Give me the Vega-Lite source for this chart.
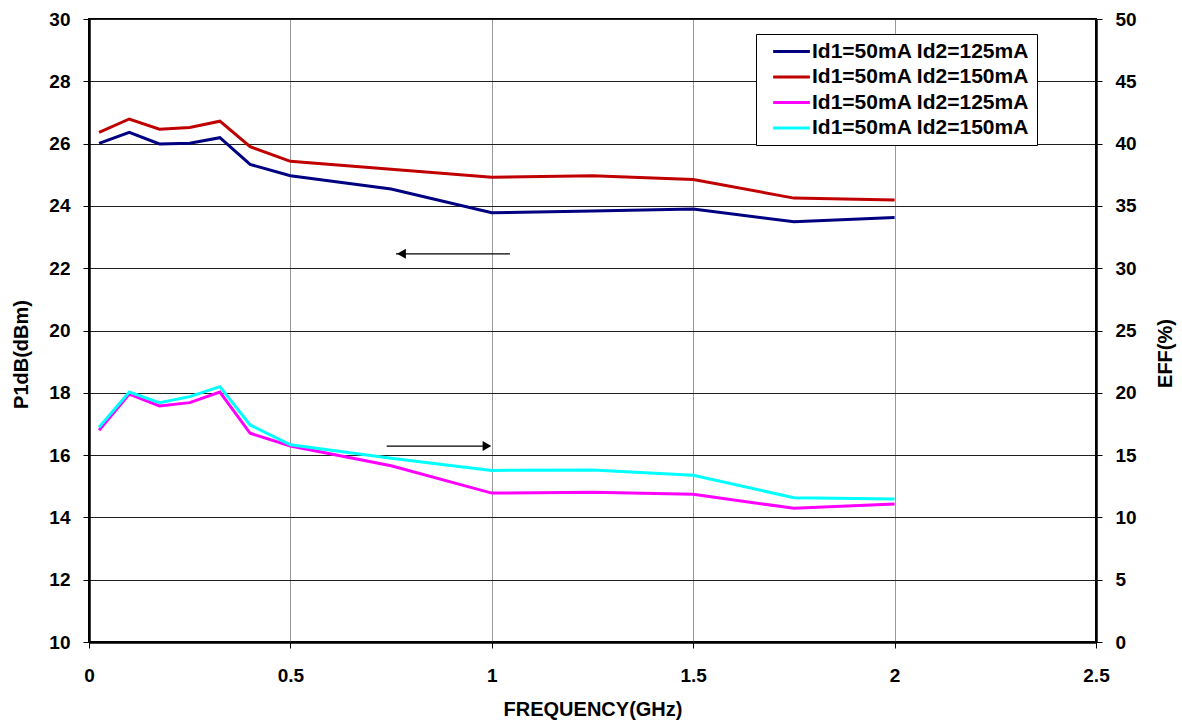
{
  "$schema": "https://vega.github.io/schema/vega-lite/v6.json",
  "width": 1007,
  "height": 623,
  "autosize": {"type": "none"},
  "padding": {"left": 89, "top": 19, "right": 86, "bottom": 81},
  "background": "white",
  "config": {
    "font": "Liberation Sans",
    "view": {"stroke": "black", "strokeWidth": 2},
    "axis": {
      "labelFont": "Liberation Sans", "labelFontSize": 19, "labelFontWeight": "bold", "labelColor": "black",
      "titleFont": "Liberation Sans", "titleFontSize": 20, "titleFontWeight": "bold", "titleColor": "black",
      "domainColor": "black", "domainWidth": 2.5, "tickColor": "black", "tickSize": 6, "tickWidth": 1
    },
    "legend": {
      "orient": "none", "legendX": 667, "legendY": 15,
      "strokeColor": "black", "strokeWidth": 1, "fillColor": "white", "padding": 7,
      "labelFont": "Liberation Sans", "labelFontSize": 21, "labelFontWeight": "bold", "labelColor": "black", "labelLimit": 400,
      "symbolType": "M-0.05,0H5.2", "symbolStrokeWidth": 3, "symbolSize": 196, "labelOffset": 28, "rowPadding": 3.5
    }
  },
  "datasets": {
    "p1db": [
      {"freq": 0.025, "series": "P1dB Id2=125mA", "value": 26.01},
      {"freq": 0.1, "series": "P1dB Id2=125mA", "value": 26.36},
      {"freq": 0.175, "series": "P1dB Id2=125mA", "value": 25.99},
      {"freq": 0.25, "series": "P1dB Id2=125mA", "value": 26.01},
      {"freq": 0.325, "series": "P1dB Id2=125mA", "value": 26.19},
      {"freq": 0.4, "series": "P1dB Id2=125mA", "value": 25.33},
      {"freq": 0.5, "series": "P1dB Id2=125mA", "value": 24.97},
      {"freq": 0.75, "series": "P1dB Id2=125mA", "value": 24.54},
      {"freq": 1.0, "series": "P1dB Id2=125mA", "value": 23.78},
      {"freq": 1.25, "series": "P1dB Id2=125mA", "value": 23.84},
      {"freq": 1.5, "series": "P1dB Id2=125mA", "value": 23.9},
      {"freq": 1.75, "series": "P1dB Id2=125mA", "value": 23.49},
      {"freq": 2.0, "series": "P1dB Id2=125mA", "value": 23.63},
      {"freq": 0.025, "series": "P1dB Id2=150mA", "value": 26.36},
      {"freq": 0.1, "series": "P1dB Id2=150mA", "value": 26.79},
      {"freq": 0.175, "series": "P1dB Id2=150mA", "value": 26.46},
      {"freq": 0.25, "series": "P1dB Id2=150mA", "value": 26.52},
      {"freq": 0.325, "series": "P1dB Id2=150mA", "value": 26.72},
      {"freq": 0.4, "series": "P1dB Id2=150mA", "value": 25.9},
      {"freq": 0.5, "series": "P1dB Id2=150mA", "value": 25.43},
      {"freq": 0.75, "series": "P1dB Id2=150mA", "value": 25.18},
      {"freq": 1.0, "series": "P1dB Id2=150mA", "value": 24.92},
      {"freq": 1.25, "series": "P1dB Id2=150mA", "value": 24.97},
      {"freq": 1.5, "series": "P1dB Id2=150mA", "value": 24.85},
      {"freq": 1.75, "series": "P1dB Id2=150mA", "value": 24.25},
      {"freq": 2.0, "series": "P1dB Id2=150mA", "value": 24.19}
    ],
    "eff": [
      {"freq": 0.025, "series": "EFF Id2=125mA", "value": 17.0},
      {"freq": 0.1, "series": "EFF Id2=125mA", "value": 19.9},
      {"freq": 0.175, "series": "EFF Id2=125mA", "value": 18.94},
      {"freq": 0.25, "series": "EFF Id2=125mA", "value": 19.21},
      {"freq": 0.325, "series": "EFF Id2=125mA", "value": 20.06},
      {"freq": 0.4, "series": "EFF Id2=125mA", "value": 16.75},
      {"freq": 0.5, "series": "EFF Id2=125mA", "value": 15.73},
      {"freq": 0.75, "series": "EFF Id2=125mA", "value": 14.15},
      {"freq": 1.0, "series": "EFF Id2=125mA", "value": 11.95},
      {"freq": 1.25, "series": "EFF Id2=125mA", "value": 12.01},
      {"freq": 1.5, "series": "EFF Id2=125mA", "value": 11.85},
      {"freq": 1.75, "series": "EFF Id2=125mA", "value": 10.73},
      {"freq": 2.0, "series": "EFF Id2=125mA", "value": 11.08},
      {"freq": 0.025, "series": "EFF Id2=150mA", "value": 17.23},
      {"freq": 0.1, "series": "EFF Id2=150mA", "value": 20.06},
      {"freq": 0.175, "series": "EFF Id2=150mA", "value": 19.21},
      {"freq": 0.25, "series": "EFF Id2=150mA", "value": 19.69},
      {"freq": 0.325, "series": "EFF Id2=150mA", "value": 20.49},
      {"freq": 0.4, "series": "EFF Id2=150mA", "value": 17.42},
      {"freq": 0.5, "series": "EFF Id2=150mA", "value": 15.83},
      {"freq": 0.75, "series": "EFF Id2=150mA", "value": 14.74},
      {"freq": 1.0, "series": "EFF Id2=150mA", "value": 13.77},
      {"freq": 1.25, "series": "EFF Id2=150mA", "value": 13.8},
      {"freq": 1.5, "series": "EFF Id2=150mA", "value": 13.38},
      {"freq": 1.75, "series": "EFF Id2=150mA", "value": 11.58},
      {"freq": 2.0, "series": "EFF Id2=150mA", "value": 11.48}
    ],
    "arrows": [
      {"x1": 0.762, "x2": 1.045, "y": 22.46},
      {"x1": 0.739, "x2": 0.99, "y": 16.29}
    ],
    "heads": [
      {"x": 0.776, "y": 22.46, "shape": "triangle-left"},
      {"x": 0.988, "y": 16.29, "shape": "triangle-right"}
    ]
  },
  "layer": [
    {
      "layer": [
        {
          "data": {"name": "p1db"},
          "mark": {"type": "line", "strokeWidth": 3},
          "encoding": {
            "x": {
              "field": "freq", "type": "quantitative",
              "scale": {"domain": [0, 2.5], "nice": false, "zero": false},
              "axis": {"values": [0, 0.5, 1, 1.5, 2, 2.5], "format": "~g", "title": "FREQUENCY(GHz)", "grid": true, "gridColor": "#999999", "gridWidth": 1, "labelPadding": 18, "titlePadding": 14, "labelFlush": false}
            },
            "y": {
              "field": "value", "type": "quantitative",
              "scale": {"domain": [10, 30], "nice": false, "zero": false},
              "axis": {"values": [10, 12, 14, 16, 18, 20, 22, 24, 26, 28, 30], "title": "P1dB(dBm)", "grid": true, "gridColor": "#202020", "gridWidth": 1, "labelPadding": 13, "titlePadding": 17, "titleY": 335}
            },
            "color": {
              "field": "series", "type": "nominal",
              "scale": {"domain": ["P1dB Id2=125mA", "P1dB Id2=150mA", "EFF Id2=125mA", "EFF Id2=150mA"], "range": ["#000080", "#C00000", "#FF00FF", "#00FFFF"]},
              "legend": {"title": null, "labelExpr": "indexof(datum.label, '125') >= 0 ? 'Id1=50mA Id2=125mA' : 'Id1=50mA Id2=150mA'"}
            }
          }
        },
        {
          "data": {"name": "arrows"},
          "mark": {"type": "rule", "color": "black", "strokeWidth": 1.2},
          "encoding": {
            "x": {"field": "x1", "type": "quantitative"},
            "x2": {"field": "x2"},
            "y": {"field": "y", "type": "quantitative"}
          }
        },
        {
          "data": {"name": "heads"},
          "mark": {"type": "point", "filled": true, "color": "black", "size": 100, "opacity": 1},
          "encoding": {
            "x": {"field": "x", "type": "quantitative"},
            "y": {"field": "y", "type": "quantitative"},
            "shape": {"field": "shape", "type": "nominal", "scale": null}
          }
        }
      ]
    },
    {
      "data": {"name": "eff"},
      "mark": {"type": "line", "strokeWidth": 3},
      "encoding": {
        "x": {"field": "freq", "type": "quantitative"},
        "y": {
          "field": "value", "type": "quantitative",
          "scale": {"domain": [0, 50], "nice": false},
          "axis": {"orient": "right", "values": [0, 5, 10, 15, 20, 25, 30, 35, 40, 45, 50], "title": "EFF(%)", "grid": false, "labelPadding": 13, "titlePadding": 39, "titleAngle": 270, "titleY": 334}
        },
        "color": {"field": "series", "type": "nominal"}
      }
    }
  ],
  "resolve": {"scale": {"y": "independent"}}
}
